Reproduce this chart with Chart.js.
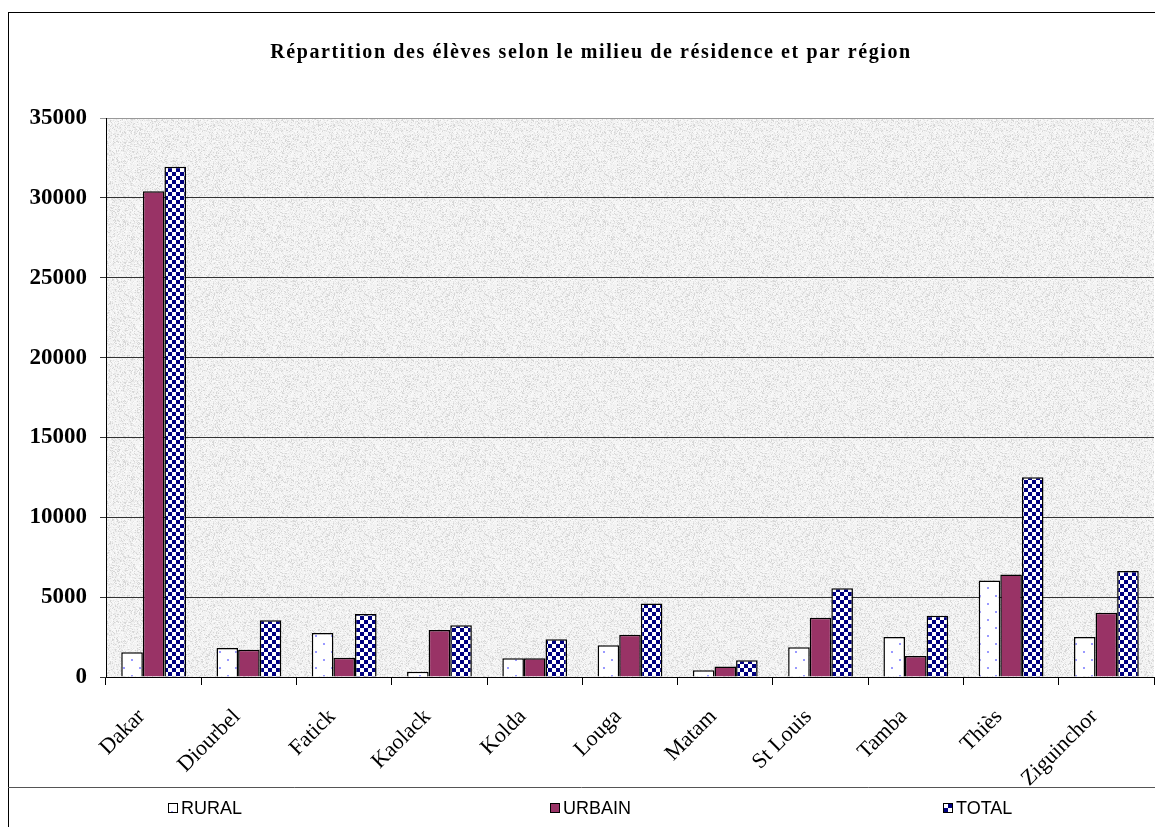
<!DOCTYPE html>
<html><head><meta charset="utf-8">
<script src="https://cdn.jsdelivr.net/npm/chart.js@4/dist/chart.umd.min.js"></script>
<style>html,body{margin:0;padding:0;background:#fff}#wrap{position:relative;width:1155px;height:827px}</style>
</head><body><div id="wrap"><canvas id="c" width="1155" height="827"></canvas></div>
<script>
const TITLE = 'Répartition des élèves selon le milieu de résidence et par région';
const regions = ['Dakar','Diourbel','Fatick','Kaolack','Kolda','Louga','Matam','St Louis','Tamba','Thiès','Ziguinchor'];
const seriesNames = ['RURAL','URBAIN','TOTAL'];
const rural  = [1550, 1820, 2750, 330, 1180, 1990, 420, 1860, 2500, 6040, 2500];
const urbain = [30420, 1710, 1200, 2940, 1180, 2650, 650, 3710, 1310, 6420, 4020];
const total  = [31950, 3560, 3950, 3240, 2360, 4600, 1050, 5550, 3830, 12500, 6630];
const yTicks = [0, 5000, 10000, 15000, 20000, 25000, 30000, 35000];

const ctx = document.getElementById('c').getContext('2d');

function makeCanvas(w, h) { const c = document.createElement('canvas'); c.width = w; c.height = h; return c; }

// dotted white pattern (RURAL)
const dc = makeCanvas(16, 16); const dx = dc.getContext('2d');
dx.fillStyle = '#ffffff'; dx.fillRect(0, 0, 16, 16);
dx.fillStyle = '#9a9aff';
dx.fillRect(3, 3, 2, 2); dx.fillRect(11, 11, 2, 2);
const dotPattern = ctx.createPattern(dc, 'repeat');

// checker pattern (TOTAL)
const cc = makeCanvas(8, 8); const cx = cc.getContext('2d');
cx.fillStyle = '#ffffff'; cx.fillRect(0, 0, 8, 8);
cx.fillStyle = '#000080'; cx.fillRect(0, 0, 4, 4); cx.fillRect(4, 4, 4, 4);
const checkPattern = ctx.createPattern(cc, 'repeat');

// granite-like background texture (deterministic hash, decoration only)
const tc = makeCanvas(120, 120); const tx = tc.getContext('2d');
const img = tx.createImageData(120, 120);
for (let j = 0; j < 120; j++) for (let i = 0; i < 120; i++) {
  let h = (i * 374761393 + j * 668265263) | 0; h = Math.imul(h ^ (h >>> 13), 1274126177); h = h ^ (h >>> 16);
  const r = (h >>> 0) % 100;
  let v = 242; if (r < 12) v = 214; else if (r < 30) v = 229; else if (r > 78) v = 250;
  const k = (j * 120 + i) * 4; img.data[k] = v; img.data[k+1] = v; img.data[k+2] = v; img.data[k+3] = 255;
}
tx.putImageData(img, 0, 0);
const texPattern = ctx.createPattern(tc, 'repeat');

const legendX = [168, 550, 943];
const frame = {
  id: 'frame',
  beforeDraw(chart) {
    const c = chart.ctx, a = chart.chartArea;
    c.save();
    c.fillStyle = '#ffffff'; c.fillRect(0, 0, chart.width, chart.height);
    c.fillStyle = texPattern; c.fillRect(a.left, a.top, a.right - a.left, a.bottom - a.top);
    c.strokeStyle = '#000'; c.lineWidth = 1;
    c.strokeRect(8.5, 12.5, 1160, 830);
    c.strokeStyle = '#555';
    c.beginPath(); c.moveTo(8, 787.5); c.lineTo(1155, 787.5); c.stroke();
    // title
    c.fillStyle = '#000'; c.font = 'bold 20px "Liberation Serif"';
    c.textAlign = 'center'; c.textBaseline = 'middle';
    if ('letterSpacing' in c) c.letterSpacing = '1.6px';
    c.fillText(TITLE, 591, 53);
    c.restore();
  },
  afterDraw(chart) {
    const c = chart.ctx;
    c.save();
    c.font = '18px "Liberation Sans"'; c.textBaseline = 'middle'; c.textAlign = 'left';
    chart.data.datasets.forEach((ds, i) => {
      const x = legendX[i], y = 808;
      c.fillStyle = ds.backgroundColor; c.fillRect(x, y - 5, 10, 10);
      c.strokeStyle = '#000'; c.lineWidth = 1; c.strokeRect(x + 0.5, y - 4.5, 9, 9);
      c.fillStyle = '#000'; c.fillText(ds.label, x + 13, y + 1);
    });
    c.restore();
  }
};

new Chart(ctx, {
  type: 'bar',
  plugins: [frame],
  data: {
    labels: regions,
    datasets: [
      { label: seriesNames[0], data: rural, backgroundColor: dotPattern, borderColor: '#000', borderWidth: 1.5 },
      { label: seriesNames[1], data: urbain, backgroundColor: '#993366', borderColor: '#000', borderWidth: 1.5 },
      { label: seriesNames[2], data: total, backgroundColor: checkPattern, borderColor: '#000', borderWidth: 1.5 }
    ]
  },
  options: {
    responsive: false, animation: false,
    layout: { padding: { left: 26, right: 1, top: 118, bottom: 40 } },
    datasets: { bar: { categoryPercentage: 0.68, barPercentage: 1.0 } },
    plugins: {
      title: { display: false },
      legend: { display: false },
      tooltip: { enabled: false }
    },
    scales: {
      x: {
        grid: { display: true, drawOnChartArea: false, offset: true, color: '#000', tickLength: 8 },
        border: { display: true, color: '#000', width: 1 },
        ticks: { color: '#000', font: { family: 'Liberation Serif', size: 22 }, maxRotation: 45, minRotation: 45, padding: 19, labelOffset: -12 },
        afterFit(s) { s.height = 110; }
      },
      y: {
        min: 0, max: 35000,
        afterBuildTicks(s) { s.ticks = yTicks.map(v => ({ value: v })); },
        grid: { color: (c) => c.tick && c.tick.value === 35000 ? '#999' : '#333', tickLength: 6, drawTicks: true },
        border: { display: true, color: '#000', width: 1 },
        ticks: { color: '#000', font: { family: 'Liberation Serif', size: 23, weight: 'bold' }, padding: 13,
          callback: (v) => String(v) },
        afterFit(s) { s.width = 80; }
      }
    }
  }
});
</script></body></html>
